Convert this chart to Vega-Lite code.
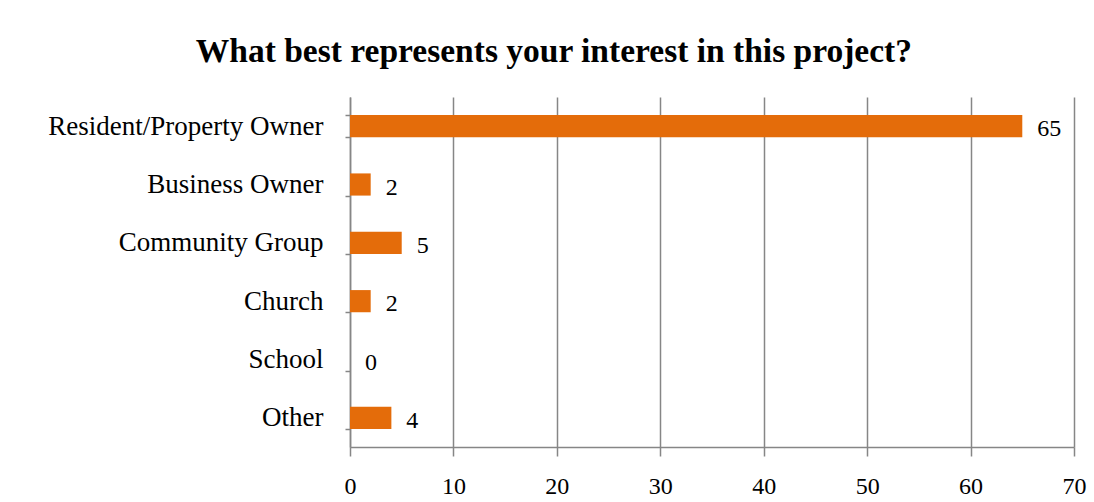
{
  "$schema": "https://vega.github.io/schema/vega-lite/v6.json",
  "autosize": "none",
  "width": 724,
  "height": 350,
  "padding": {"left": 350, "top": 97, "right": 20, "bottom": 55},
  "background": "white",
  "config": {
    "font": "Liberation Serif",
    "view": {"stroke": null}
  },
  "title": {
    "text": "What best represents your interest in this project?",
    "font": "Liberation Serif",
    "fontSize": 33.5,
    "fontWeight": "bold",
    "color": "#000000",
    "anchor": "middle",
    "frame": "bounds",
    "dx": -13,
    "offset": 14
  },
  "data": {
    "values": [
      {"category": "Resident/Property Owner", "count": 65},
      {"category": "Business Owner", "count": 2},
      {"category": "Community Group", "count": 5},
      {"category": "Church", "count": 2},
      {"category": "School", "count": 0},
      {"category": "Other", "count": 4}
    ]
  },
  "encoding": {
    "y": {
      "field": "category",
      "type": "nominal",
      "sort": null,
      "title": null,
      "scale": {"paddingInner": 0.62, "paddingOuter": 0.31},
      "axis": {
        "domainColor": "#868686",
        "domainWidth": 1.5,
        "tickColor": "#868686",
        "tickWidth": 1.5,
        "tickSize": 5,
        "tickBand": "extent",
        "labelPadding": 22,
        "labelLimit": 0,
        "labelFont": "Liberation Serif",
        "labelFontSize": 27,
        "labelColor": "#000000",
        "grid": false
      }
    }
  },
  "layer": [
    {
      "mark": {"type": "bar", "color": "#E46C0A"},
      "encoding": {
        "x": {
          "field": "count",
          "type": "quantitative",
          "title": null,
          "scale": {"domain": [0, 70], "nice": false},
          "axis": {
            "values": [0, 10, 20, 30, 40, 50, 60, 70],
            "grid": true,
            "gridColor": "#868686",
            "gridWidth": 1.5,
            "domainColor": "#868686",
            "domainWidth": 1.5,
            "tickColor": "#868686",
            "tickWidth": 1.5,
            "tickSize": 9,
            "labelPadding": 18,
            "labelFont": "Liberation Serif",
            "labelFontSize": 24,
            "labelColor": "#000000",
            "labelFlush": false
          }
        }
      }
    },
    {
      "mark": {"type": "text", "align": "left", "baseline": "middle", "dx": 15, "dy": 3, "font": "Liberation Serif", "fontSize": 24, "color": "#000000"},
      "encoding": {
        "x": {"field": "count", "type": "quantitative"},
        "text": {"field": "count", "type": "quantitative"}
      }
    }
  ]
}
